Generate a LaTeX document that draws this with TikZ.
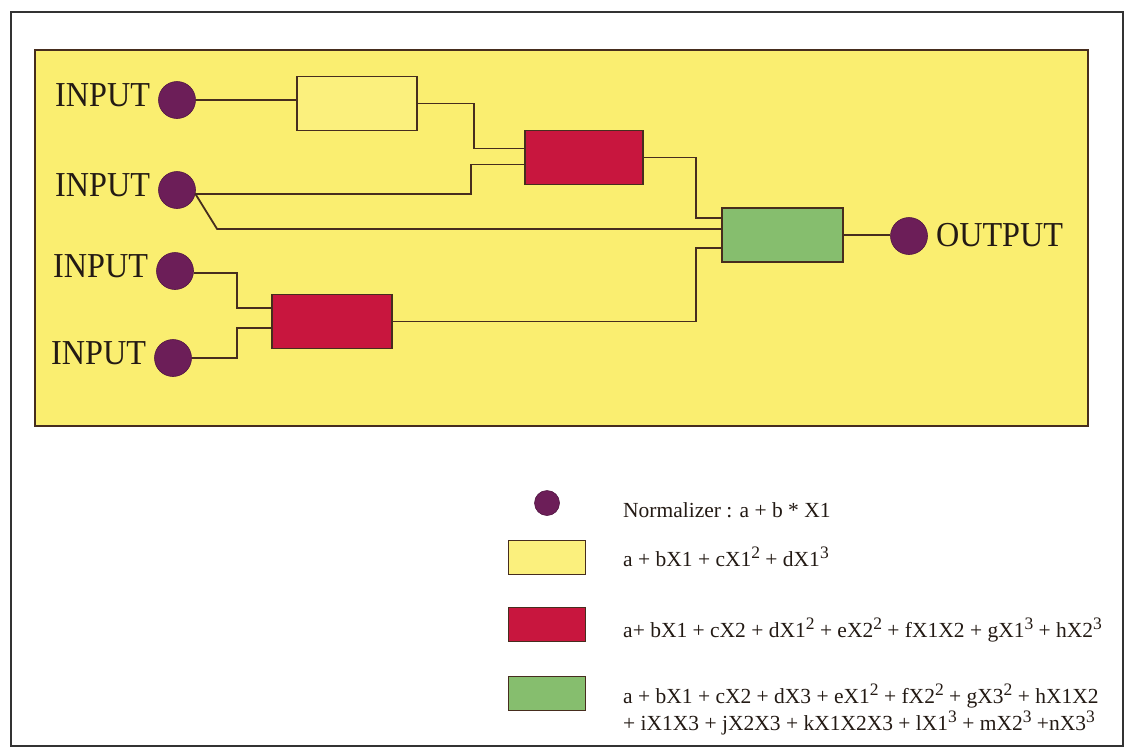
\documentclass[tikz,border=0pt]{standalone}
\usepackage{fontspec}
\setmainfont{Liberation Serif}
\definecolor{panel}{RGB}{250,238,112}
\definecolor{ybox}{RGB}{251,240,125}
\definecolor{rbox}{RGB}{200,22,62}
\definecolor{gbox}{RGB}{134,190,110}
\definecolor{nrm}{RGB}{108,30,88}
\definecolor{wirec}{RGB}{70,45,30}
\definecolor{ink}{RGB}{35,26,20}
\newcommand\pw[1]{\raisebox{7.5pt}{\fontsize{17.5}{17.5}\selectfont #1}}
\newcommand\condbig[1]{\scalebox{0.92}[1]{#1}}
\begin{document}
\begin{tikzpicture}[x=1pt,y=-1pt,
  wire/.style={draw=wirec, line width=1.8pt},
  norm/.style={circle, fill=nrm, draw=nrm!75!black, line width=0.6pt, minimum size=37pt, inner sep=0pt},
  fbox/.style={draw=wirec, line width=1.8pt, minimum width=120pt, minimum height=54pt, inner sep=0pt},
  sw/.style={draw=wirec, line width=1.4pt, minimum width=77pt, minimum height=34pt, inner sep=0pt},
  big/.style={font=\fontsize{35}{38}\selectfont, text=ink, inner sep=0pt},
  small/.style={font=\fontsize{21.5}{25}\selectfont, text=ink, inner sep=0pt}
]
\useasboundingbox (0,0) rectangle (1129,748);
\fill[white] (0,0) rectangle (1129,748);
% outer frame
\draw[line width=1.5pt, draw=black!80] (11,12) rectangle (1123,746);
% panel
\draw[draw=wirec, fill=panel, line width=2.2pt] (35,50) rectangle (1088,426);

% normalizers
\node[norm] (c1) at (177,100) {};
\node[norm] (c2) at (177,190) {};
\node[norm] (c3) at (175,271) {};
\node[norm] (c4) at (173,358) {};
\node[norm, minimum width=35pt, minimum height=37pt] (out) at (909,236) {};

% labels
\node[big, anchor=base east] (l1) at ([xshift=-8pt,yshift=-6pt]c1.west) {\condbig{INPUT}};
\node[big, anchor=base east] (l2) at ([xshift=-8pt,yshift=-6pt]c2.west) {\condbig{INPUT}};
\node[big, anchor=base east] (l3) at ([xshift=-8pt,yshift=-6pt]c3.west) {\condbig{INPUT}};
\node[big, anchor=base east] (l4) at ([xshift=-8pt,yshift=-6pt]c4.west) {\condbig{INPUT}};
\node[big, anchor=base west] (lo) at ([xshift=8pt,yshift=-10pt]out.east) {\condbig{OUTPUT}};

% polynomial boxes
\node[fbox, fill=ybox] (yb) at (357,103.5) {};
\node[fbox, fill=rbox, minimum width=118pt] (r1) at (584,157.5) {};
\node[fbox, fill=gbox, minimum width=121pt] (g) at (782.5,235) {};
\node[fbox, fill=rbox] (r2) at (332,321.5) {};

% connectors
\draw[wire] (c1.east) -- (yb.west |- c1.east);
\draw[wire] (yb.east) -- ++(56,0) |- ([yshift=9pt]r1.west);
\draw[wire] (c2.-12) -- ++(276,0) |- ([yshift=-7pt]r1.west);
\draw[wire] (c2.-12) -- ([xshift=-504pt,yshift=6pt]g.west) -- ([yshift=6pt]g.west);
\draw[wire] (r1.east) -- ++(52,0) |- ([yshift=17pt]g.west);
\draw[wire] (r2.east) -- ++(303,0) |- ([yshift=-13pt]g.west);
\draw[wire] (c3.-6) -| ([xshift=-34pt,yshift=13.5pt]r2.west) -- ([yshift=13.5pt]r2.west);
\draw[wire] (c4.east) -| ([xshift=-34pt,yshift=-6.5pt]r2.west) -- ([yshift=-6.5pt]r2.west);
\draw[wire] (g.east) -- (out.west |- g.east);

% legend
\node[norm, minimum width=24pt, minimum height=25pt] (lc) at (547,503) {};
\node[sw, fill=ybox] (ly) at (547,557.5) {};
\node[sw, fill=rbox] (lr) at (547,624.5) {};
\node[sw, fill=gbox] (lg) at (547,693.5) {};
\node[small, anchor=base west] (tn) at (623,517) {Normalizer : a + b * X1};
\node[small, anchor=base west] (ty) at (623,566) {a + bX1 + cX1\pw{2} + dX1\pw{3}};
\node[small, anchor=base west] (tr) at (623,637) {a+ bX1 + cX2 + dX1\pw{2} + eX2\pw{2} + fX1X2 + gX1\pw{3} + hX2\pw{3}};
\node[small, anchor=base west] (tg) at (623,703) {\vtop{\baselineskip=27pt\lineskiplimit=-20pt
  \hbox{a + bX1 + cX2 + dX3 + eX1\pw{2} + fX2\pw{2} + gX3\pw{2} + hX1X2}
  \hbox{+ iX1X3 + jX2X3 + kX1X2X3 + lX1\pw{3} + mX2\pw{3} +nX3\pw{3}}}};
\end{tikzpicture}
\end{document}
